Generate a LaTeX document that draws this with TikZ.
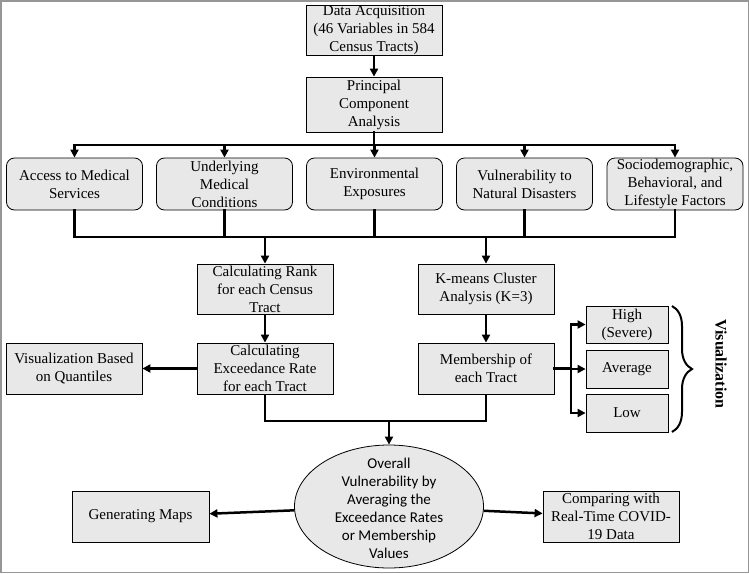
\documentclass[tikz,border=0pt]{standalone}
\usepackage{fontspec}
\setmainfont{Liberation Serif}
\newfontfamily\calib{Carlito}
\usetikzlibrary{arrows.meta,decorations.pathreplacing,shapes.geometric}
\definecolor{boxfill}{RGB}{232,232,232}
\definecolor{framegray}{RGB}{150,150,150}
\begin{document}
\begin{tikzpicture}[x=1pt,y=-1pt,
  box/.style={draw=black, line width=0.8pt, fill=boxfill, align=center, inner sep=0pt,
    minimum width=136pt, font=\fontsize{15}{18}\selectfont},
  rbox/.style={box, rounded corners=8pt, minimum height=52pt},
  conn/.style={line width=2.5pt},
  barline/.style={conn, line cap=rect},
  arr/.style={conn, -{Triangle[length=8pt,width=8pt]}}]
\useasboundingbox (0,0) rectangle (749,573);
\draw[framegray, line width=1.5pt] (0.75,0.75) rectangle (748.25,572.25);

% top
\node[box, minimum height=50pt] (da) at (374,30) {Data Acquisition\\(46 Variables in 584\\Census Tracts)};
\node[box, minimum height=55pt] (pca) at (374,104.5) {Principal\\Component\\Analysis};

% five factor boxes
\node[rbox] (b1) at (74.5,184) {Access to Medical\\Services};
\node[rbox] (b2) at (224.5,184) {Underlying\\Medical\\Conditions};
\node[rbox] (b3) at (374.5,184) {Environmental\\Exposures};
\node[rbox] (b4) at (524.5,184) {Vulnerability to\\Natural Disasters};
\node[rbox] (b5) at (675,184) {Sociodemographic,\\Behavioral, and\\Lifestyle Factors};

% middle
\node[box, minimum height=50pt] (rank) at (265,289) {Calculating Rank\\for each Census\\Tract};
\node[box, minimum height=50pt] (km) at (486,289) {K-means Cluster\\Analysis (K=3)};
\node[box, minimum height=51pt] (exc) at (265,368.5) {Calculating\\Exceedance Rate\\for each Tract};
\node[box, minimum height=51pt] (mem) at (486,368.5) {Membership of\\each Tract};
\node[box, minimum height=51pt] (vq) at (74,368.5) {Visualization Based\\on Quantiles};

\node[box, minimum width=82pt, minimum height=37pt] (high) at (627,324.5) {High\\(Severe)};
\node[box, minimum width=82pt, minimum height=38pt] (avg) at (627,369) {Average};
\node[box, minimum width=82pt, minimum height=38pt] (low) at (627,413) {Low};

% bottom
\node[draw=black, line width=0.8pt, fill=boxfill, ellipse, minimum width=189pt, minimum height=123pt, inner sep=0pt] (ell) at (389,506.5) {};
\node[align=center, inner sep=0pt, font=\calib\fontsize{15}{18}\selectfont] (elltext) at (389,508.5) {Overall\\Vulnerability by\\Averaging the\\Exceedance Rates\\or Membership\\Values};
\node[box, minimum width=137pt, minimum height=51pt] (gen) at (140.5,516.5) {Generating Maps};
\node[box, minimum height=51pt] (cmp) at (611,516.5) {Comparing with\\Real-Time COVID-\\19 Data};

% connectors top
\coordinate (t) at (374,145);
\coordinate (u) at (374,237);
\draw[arr] (da.south) -- (pca.north);
\draw[barline] (pca.south) -- (t);
\draw[barline] (b1.north |- t) -- (b5.north |- t);
\foreach \b in {b1,b2,b3,b4,b5} {
  \draw[arr] (\b.north |- t) -- (\b.north);
  \draw[barline] (\b.south) -- (\b.south |- u);
}
\draw[barline] (b1.south |- u) -- (b5.south |- u);
\draw[arr] (rank.north |- u) -- (rank.north);
\draw[arr] (km.north |- u) -- (km.north);

% middle connectors
\draw[arr] (rank.south) -- (exc.north);
\draw[arr] (km.south) -- (mem.north);
\draw[arr] (exc.west) -- (vq.east);

\coordinate (s) at (571,368.5);
\draw[barline] (mem.east) -- (s);
\draw[barline] (s |- high.west) -- (s |- low.west);
\draw[arr] (s |- high.west) -- (high.west);
\draw[arr] (s |- avg.west) -- (avg.west);
\draw[arr] (s |- low.west) -- (low.west);

\coordinate (w) at (389,421);
\draw[conn] (exc.south) -- (exc.south |- w) -- (mem.south |- w) -- (mem.south);
\draw[arr] (w) -- (ell.north);

\draw[arr] (ell) -- (gen);
\draw[arr] (ell) -- (cmp);

% brace and label
\draw[line width=2pt, decorate, decoration={brace, amplitude=20pt, aspect=0.5}] (672,306) -- (672,432);
\node[rotate=-90, font=\bfseries\fontsize{16}{18}\selectfont] (vis) at (721,364) {Visualization};
\end{tikzpicture}
\end{document}
